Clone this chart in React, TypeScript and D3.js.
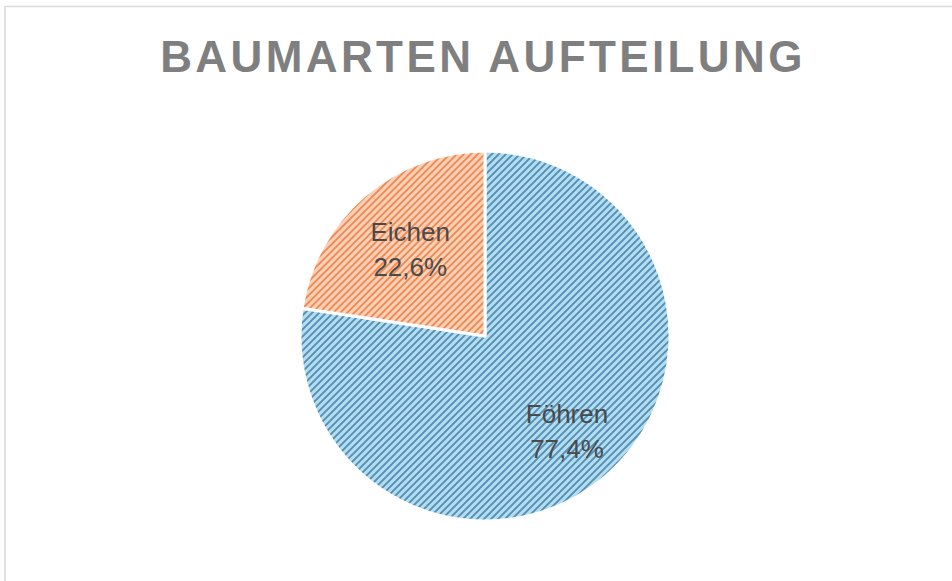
import React from "react";
import * as d3 from "d3";

const categories = ["Föhren", "Eichen"];
const values = [77.4, 22.6];
const labels = ["77,4%", "22,6%"];
const labelRadiusFactor = [1.36, 1.24];
const title = "BAUMARTEN AUFTEILUNG";

const W = 952;
const H = 581;
const cx = 485;
const cy = 336;
const R = 185;

export default function App() {
  const pie = d3.pie<number>().sort(null).value((d) => d);
  const arcs = pie(values);
  const arcGen = d3.arc<d3.PieArcDatum<number>>().innerRadius(0).outerRadius(R);
  const fills = ["url(#patBlue)", "url(#patOrange)"];
  return (
    <svg width={W} height={H} style={{ position: "absolute", left: 0, top: 0 }}>
      <defs>
        <pattern id="patBlue" patternUnits="userSpaceOnUse" width="7" height="7">
          <rect width="7" height="7" fill="#b3dcef" />
          <path d="M-1,1 l2,-2 M0,7 l7,-7 M6,8 l2,-2" stroke="#4f8db5" strokeWidth="1.8" />
        </pattern>
        <pattern id="patOrange" patternUnits="userSpaceOnUse" width="7" height="7">
          <rect width="7" height="7" fill="#fbd0b6" />
          <path d="M-1,1 l2,-2 M0,7 l7,-7 M6,8 l2,-2" stroke="#f0894f" strokeWidth="1.8" />
        </pattern>
      </defs>
      <rect x={0} y={0} width={W} height={H} fill="#ffffff" />
      <rect x={5} y={6.5} width={W + 10} height={H + 10} fill="none" stroke="#d9d9d9" strokeWidth={1.5} />
      <text
        x={483}
        y={72}
        textAnchor="middle"
        fontFamily="'Liberation Sans', Arial, sans-serif"
        fontWeight="bold"
        fontSize={44}
        letterSpacing={3.4}
        fill="#7f7f7f"
      >
        {title}
      </text>
      <g transform={`translate(${cx},${cy})`}>
        {arcs.map((a, i) => (
          <path key={categories[i]} d={arcGen(a) || ""} fill={fills[i]} stroke="#ffffff" strokeWidth={3} strokeLinejoin="round" />
        ))}
        {arcs.map((a, i) => {
          const labelArc = d3.arc<d3.PieArcDatum<number>>().innerRadius(0).outerRadius(R * labelRadiusFactor[i]);
          const [x, y] = labelArc.centroid(a);
          return (
            <text
              key={"l" + i}
              x={x}
              y={y}
              textAnchor="middle"
              fontFamily="'Liberation Sans', Arial, sans-serif"
              fontSize={26}
              fill="#4a4a4a"
            >
              <tspan x={x} dy={-8}>{categories[i]}</tspan>
              <tspan x={x} dy={35}>{labels[i]}</tspan>
            </text>
          );
        })}
      </g>
    </svg>
  );
}
